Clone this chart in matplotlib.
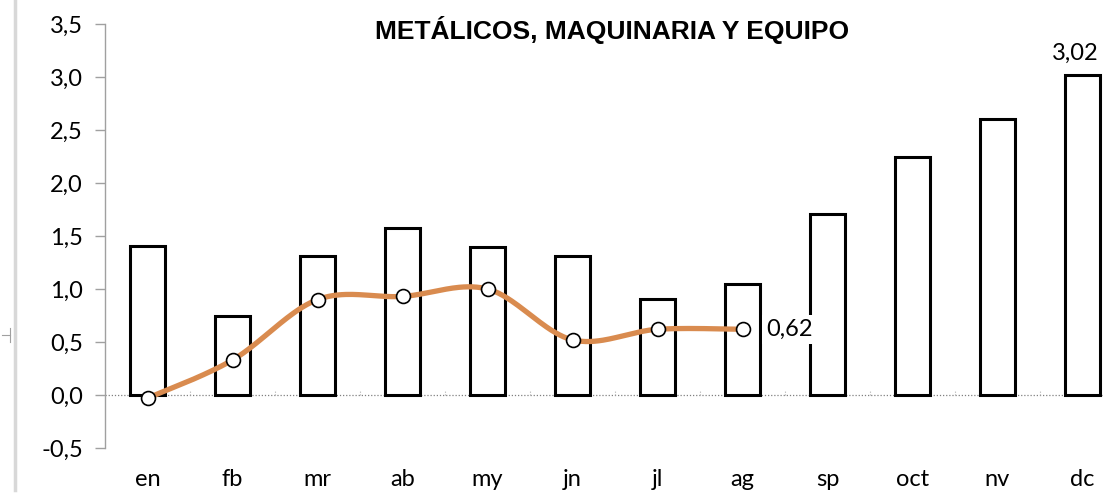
import numpy as np
import matplotlib
matplotlib.use("Agg")
import matplotlib.pyplot as plt
from matplotlib import font_manager

months = ["en", "fb", "mr", "ab", "my", "jn", "jl", "ag", "sp", "oct", "nv", "dc"]
bar_values = [1.41, 0.75, 1.31, 1.58, 1.40, 1.31, 0.91, 1.05, 1.71, 2.25, 2.60, 3.02]
line_values = [-0.03, 0.33, 0.90, 0.93, 1.00, 0.52, 0.62, 0.62]
title = "METÁLICOS, MAQUINARIA Y EQUIPO"
yticks = [-0.5, 0.0, 0.5, 1.0, 1.5, 2.0, 2.5, 3.0, 3.5]

names = {f.name for f in font_manager.fontManager.ttflist}
title_font = ["Liberation Sans Narrow", "Liberation Sans", "DejaVu Sans"] if "Liberation Sans Narrow" in names else ["Liberation Sans", "DejaVu Sans"]
tick_font = ["Lato", "DejaVu Sans"]

W, H = 1103, 495
fig = plt.figure(figsize=(W / 100, H / 100), dpi=100)
left_px, right_px, top_px, bot_px = 105, 1103, 24, 448
ax = fig.add_axes([left_px / W, 1 - bot_px / H, (right_px - left_px) / W, (bot_px - top_px) / H])

x = np.arange(len(months))
ax.bar(x, bar_values, width=0.41, facecolor="white", edgecolor="black", linewidth=2.2, zorder=2)

# Excel-like smoothed line (cubic Bezier through the points)
lx = np.arange(len(line_values), dtype=float)
ly = np.array(line_values, dtype=float)
pts = np.column_stack([lx, ly])
curve = []
n = len(pts)
for i in range(n - 1):
    p0 = pts[i - 1] if i > 0 else pts[i]
    p1 = pts[i]
    p2 = pts[i + 1]
    p3 = pts[i + 2] if i + 2 < n else pts[i + 1]
    c1 = p1 + (p2 - p0) / 6.0
    c2 = p2 - (p3 - p1) / 6.0
    t = np.linspace(0, 1, 40)[:, None]
    seg = ((1 - t) ** 3) * p1 + 3 * ((1 - t) ** 2) * t * c1 + 3 * (1 - t) * t ** 2 * c2 + t ** 3 * p2
    curve.append(seg)
curve = np.vstack(curve)
ax.plot(curve[:, 0], curve[:, 1], color="#D98B4F", linewidth=3.8, solid_capstyle="round", zorder=3)
ax.plot(lx, ly, linestyle="none", marker="o", markersize=10, markerfacecolor="white",
        markeredgecolor="black", markeredgewidth=1.2, zorder=4)

# zero line and small category dividers
ax.axhline(0, color="#808080", linewidth=0.9, linestyle=(0, (1, 1.5)), zorder=1)
for b in np.arange(len(months) + 1) - 0.5:
    ax.plot([b, b], [0, 0.05], color="#B0B0B0", linewidth=0.8, linestyle=(0, (1, 1.5)), zorder=1)

ax.set_xlim(-0.5, -0.5 + (right_px - left_px) / 85.0)
ax.set_ylim(-0.5, 3.5)
ax.set_yticks(yticks)
ax.set_yticklabels([f"{v:.1f}".replace(".", ",") for v in yticks], fontsize=17, family=tick_font)
ax.set_xticks(x)
ax.set_xticklabels(months, fontsize=17, family=tick_font)
ax.tick_params(axis="x", length=0, pad=15)
ax.tick_params(axis="y", length=7, color="#A0A0A0", width=1, pad=9)
for s in ["top", "right", "bottom"]:
    ax.spines[s].set_visible(False)
ax.spines["left"].set_color("#A0A0A0")
ax.spines["left"].set_linewidth(1)

# data labels
ax.text(len(line_values) - 1 + 0.28, line_values[-1], f"{line_values[-1]:.2f}".replace(".", ","),
        fontsize=17, family=tick_font, va="center", ha="left",
        bbox=dict(facecolor="white", edgecolor="none", pad=3), zorder=5)
ax.annotate(f"{bar_values[-1]:.2f}".replace(".", ","), xy=(len(months) - 1, bar_values[-1]),
            xytext=(-5, 8), textcoords="offset points",
            fontsize=17, family=tick_font, va="bottom", ha="center", zorder=5)

fig.text(612 / W, 1 - 30 / H, title, fontsize=19, fontweight="bold", family=title_font,
         ha="center", va="center")

# left decorative line
fig.add_artist(plt.Line2D([15 / W, 15 / W], [1 - 490 / H, 1.0], color="#D8D8D8", linewidth=2.5))
fig.add_artist(plt.Line2D([2 / W, 10 / W], [1 - 335 / H, 1 - 335 / H], color="#A0A0A0", linewidth=0.8))
fig.add_artist(plt.Line2D([10 / W, 10 / W], [1 - 328 / H, 1 - 342 / H], color="#A0A0A0", linewidth=0.8))

fig.savefig("out.png", dpi=100)
